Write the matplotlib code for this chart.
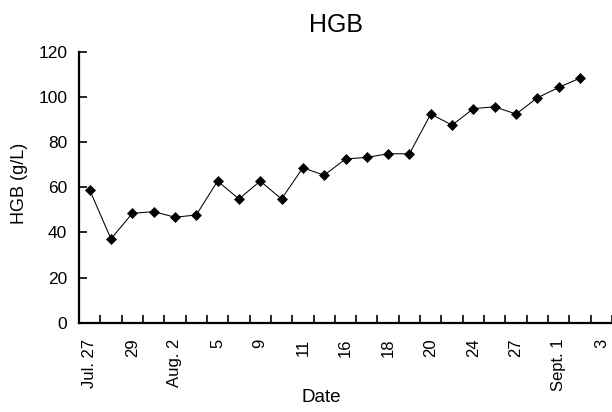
import numpy as np
import matplotlib
matplotlib.use("Agg")
import matplotlib.pyplot as plt
from matplotlib.ticker import FixedLocator, NullFormatter

plt.rcParams['font.family'] = ['Liberation Sans', 'DejaVu Sans']

# Data
tick_labels = ["Jul. 27", "29", "Aug. 2", "5", "9", "11", "16", "18", "20",
               "24", "27", "Sept. 1", "3"]
n_categories = 25
hgb_values = [58.8, 37.1, 48.4, 49.2, 46.7, 47.7, 62.7, 54.8, 62.7, 54.8,
              68.6, 65.3, 72.5, 73.2, 74.8, 74.8, 92.4, 87.5, 94.8, 95.6,
              92.4, 99.6, 104.2, 108.3]

fig = plt.figure(figsize=(6.12, 4.12), dpi=100)
ax = fig.add_axes([79/612, 1 - 322.7/412, 1 - 79/612, (322.7 - 51.7)/412])

x = np.arange(len(hgb_values))
ax.plot(x, hgb_values, color='black', linewidth=0.75, marker='D',
        markersize=5, markeredgewidth=0.5, markerfacecolor='black',
        markeredgecolor='black', clip_on=False)

ax.set_xlim(-0.5, n_categories - 0.5)
ax.set_ylim(0, 120)
ax.set_yticks(np.arange(0, 121, 20))

major_pos = np.arange(0, n_categories, 2)
ax.xaxis.set_major_locator(FixedLocator(major_pos))
ax.set_xticklabels(tick_labels, rotation=90, va='top', ha='center')
ax.xaxis.set_minor_locator(FixedLocator(np.arange(-0.5, n_categories, 1)))
ax.xaxis.set_minor_formatter(NullFormatter())

ax.tick_params(axis='x', which='major', length=0, pad=11.5, labelsize=12)
ax.tick_params(axis='x', which='minor', direction='in', length=6, width=1.2)
ax.tick_params(axis='y', which='major', direction='in', length=5.5, width=1.2,
               pad=8.5, labelsize=12.5)

for s in ['top', 'right']:
    ax.spines[s].set_visible(False)
for s in ['left', 'bottom']:
    ax.spines[s].set_linewidth(1.6)

ax.set_xlabel("Date", fontsize=13.5)
ax.xaxis.set_label_coords((321 - 79) / (612 - 79), -(398 - 322.7) / 271, transform=ax.transAxes)
ax.xaxis.label.set_va('center')
ax.set_ylabel("HGB (g/L)", fontsize=13)
ax.yaxis.set_label_coords(-(79 - 19) / 533, (322.7 - 183) / 271)
ax.yaxis.label.set_va('center')

fig.text(336/612, 1 - 24.5/412, "HGB", fontsize=18, ha='center', va='center')

fig.savefig("out.png", dpi=100)
